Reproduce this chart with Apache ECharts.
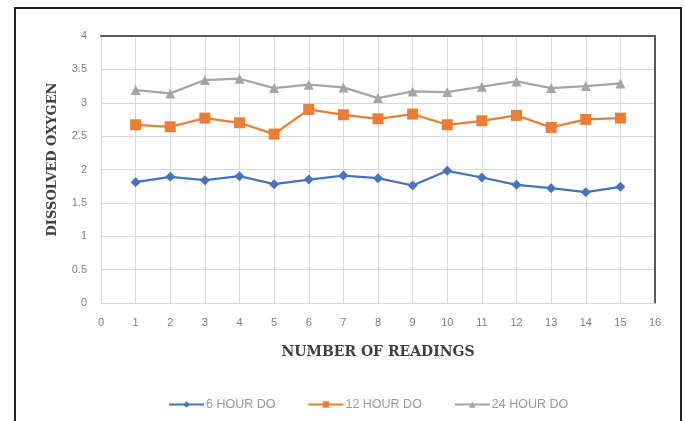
<!DOCTYPE html>
<html>
<head>
<meta charset="utf-8">
<script src="https://cdn.jsdelivr.net/npm/echarts@6/dist/echarts.min.js"></script>
<style>
  html, body { margin: 0; padding: 0; background: #fff; }
  #chart { width: 685px; height: 421px; }
</style>
</head>
<body>
<div id="chart"></div>
<script>
// Reading numbers along the x axis
const readings = [1, 2, 3, 4, 5, 6, 7, 8, 9, 10, 11, 12, 13, 14, 15];

// Dissolved oxygen measured after each holding time
const do6h  = [1.81, 1.89, 1.84, 1.90, 1.78, 1.85, 1.91, 1.87, 1.76, 1.98, 1.88, 1.77, 1.72, 1.66, 1.74];
const do12h = [2.67, 2.64, 2.77, 2.70, 2.53, 2.90, 2.82, 2.76, 2.83, 2.67, 2.73, 2.81, 2.63, 2.75, 2.77];
const do24h = [3.19, 3.14, 3.34, 3.36, 3.22, 3.27, 3.23, 3.07, 3.17, 3.16, 3.24, 3.32, 3.22, 3.25, 3.29];

const seriesNames = ['6 HOUR DO', '12 HOUR DO', '24 HOUR DO'];

const pairs = vals => readings.map((r, i) => [r, vals[i]]);

const chart = echarts.init(document.getElementById('chart'));
const labelFont = { color: '#7f7f7f', fontSize: 11, fontFamily: 'Liberation Sans, Arial, sans-serif' };
const titleFont = { color: '#404040', fontSize: 14, fontWeight: 'bold', fontFamily: 'DejaVu Serif, Liberation Serif, serif' };

chart.setOption({
  animation: false,
  backgroundColor: '#fff',
  graphic: [{
    type: 'rect',
    shape: { x: 15, y: 8, width: 666, height: 430 },
    style: { fill: 'none', stroke: '#222', lineWidth: 2 },
    silent: true
  }],
  grid: { left: 101, right: 30, top: 36, bottom: 118 },
  legend: {
    top: 393,
    left: 163,
    itemWidth: 35,
    itemHeight: 8,
    itemGap: 32,
    textStyle: { color: '#999', fontSize: 12.5, fontFamily: 'Liberation Sans, Arial, sans-serif', padding: [0, 0, 0, -3] },
    data: seriesNames
  },
  xAxis: [{
    type: 'value',
    min: 0, max: 16, interval: 1,
    name: 'NUMBER OF READINGS',
    nameLocation: 'middle',
    nameGap: 42,
    nameTextStyle: titleFont,
    axisLine: { show: true, lineStyle: { color: '#d9d9d9' } },
    axisTick: { show: false },
    axisLabel: Object.assign({ margin: 14 }, labelFont),
    splitLine: { show: true, lineStyle: { color: '#d9d9d9' } }
  }, {
    type: 'value', position: 'top',
    min: 0, max: 16, interval: 1,
    axisLine: { show: true, onZero: false, lineStyle: { color: '#595959', width: 2 } },
    axisTick: { show: false }, axisLabel: { show: false }, splitLine: { show: false }
  }],
  yAxis: [{
    type: 'value',
    min: 0, max: 4, interval: 0.5,
    name: 'DISSOLVED OXYGEN',
    nameLocation: 'middle',
    nameGap: 42,
    nameTextStyle: Object.assign({}, titleFont, { fontSize: 13, padding: [0, 0, 0, 20] }),
    axisLine: { show: false },
    axisTick: { show: false },
    axisLabel: Object.assign({ margin: 14 }, labelFont),
    splitLine: { show: true, lineStyle: { color: '#d9d9d9' } }
  }, {
    type: 'value', position: 'right',
    min: 0, max: 4, interval: 0.5,
    axisLine: { show: true, onZero: false, lineStyle: { color: '#595959', width: 2 } },
    axisTick: { show: false }, axisLabel: { show: false }, splitLine: { show: false }
  }],
  series: [{
    name: seriesNames[0], type: 'line', data: pairs(do6h),
    symbol: 'diamond', symbolSize: 10,
    itemStyle: { color: '#4472C4' }, lineStyle: { width: 2.25, color: '#4472C4' }
  }, {
    name: seriesNames[1], type: 'line', data: pairs(do12h),
    symbol: 'rect', symbolSize: 11,
    itemStyle: { color: '#ED7D31' }, lineStyle: { width: 2.25, color: '#ED7D31' }
  }, {
    name: seriesNames[2], type: 'line', data: pairs(do24h),
    symbol: 'triangle', symbolSize: 10,
    itemStyle: { color: '#A5A5A5' }, lineStyle: { width: 2.25, color: '#A5A5A5' }
  }]
});
</script>
</body>
</html>
